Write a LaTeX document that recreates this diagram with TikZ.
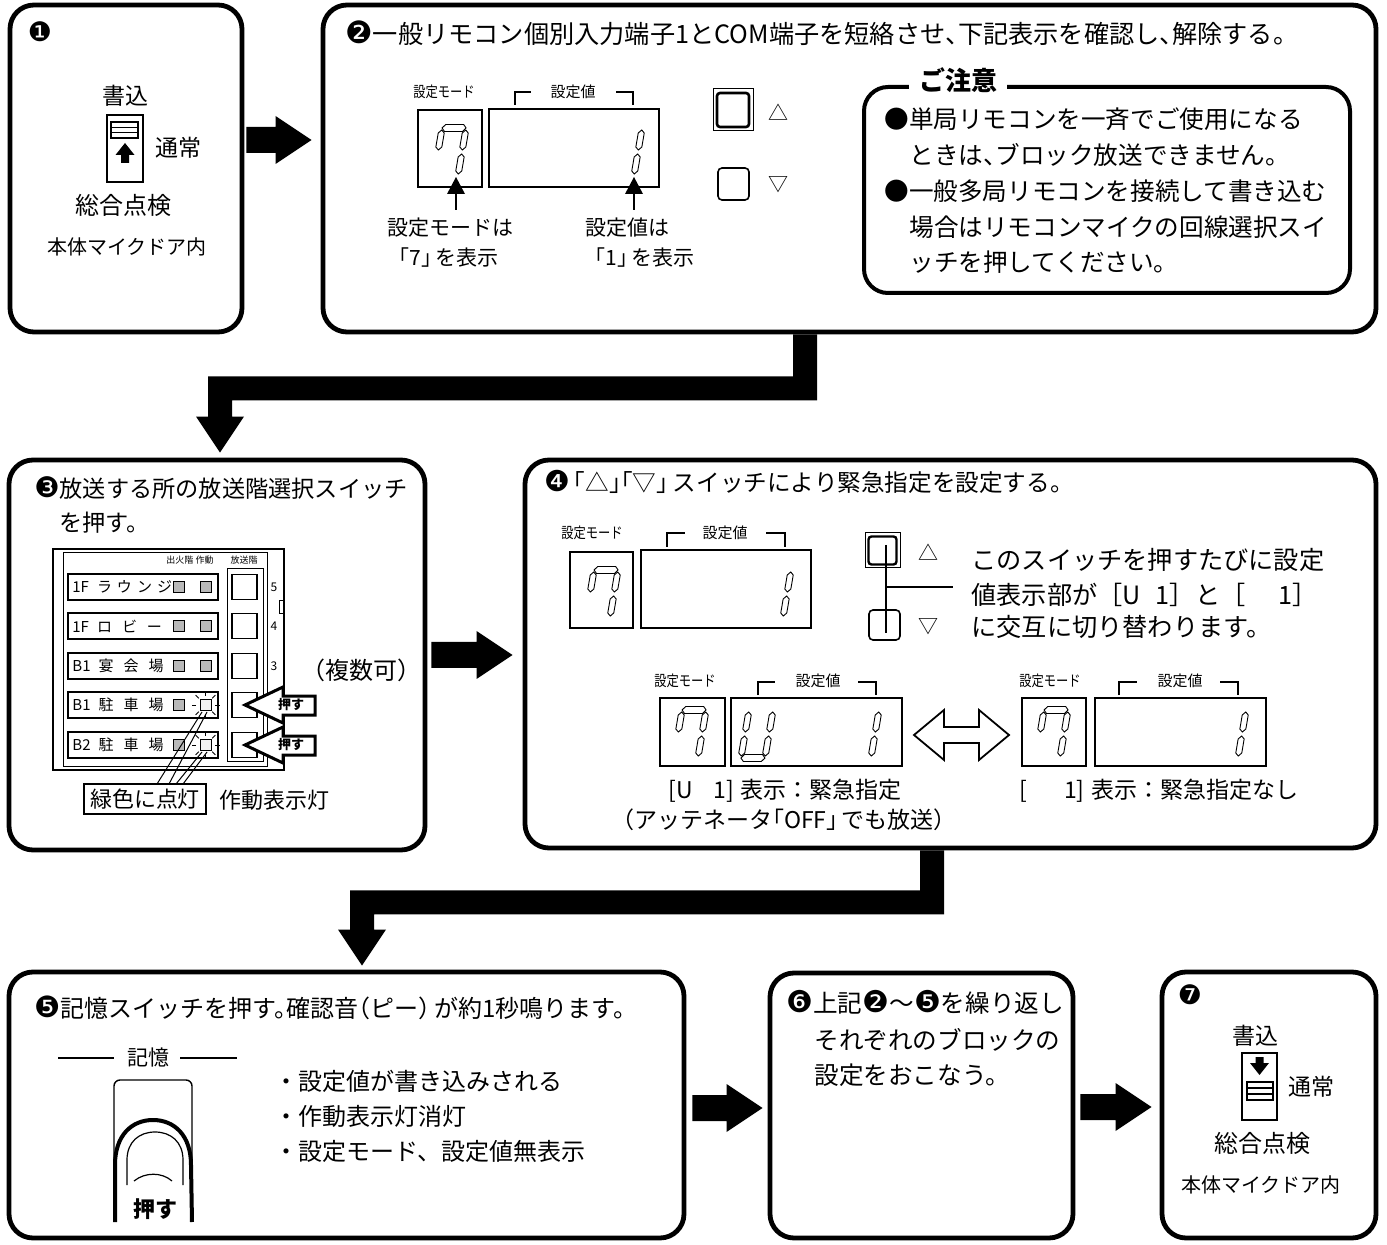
\documentclass[tikz,border=0pt]{standalone}
\usepackage{graphicx}
\usepackage{fontspec}
\setmainfont{Noto Sans CJK JP}
\newfontfamily\dingfont{DejaVu Sans}
\usetikzlibrary{calc,fit}

\newcommand\fsz[1]{\fontsize{#1}{#1}\selectfont}
\newcommand\cnum[1]{\scalebox{1.22}{\dingfont #1}}
\newcommand\narrowtxt[1]{\scalebox{0.82}[1]{#1}}
% half-width Japanese punctuation: opening marks drop their left half, closing marks their right half
\newcommand\jlb[1]{\kern-0.5em#1}
\newcommand\jrb[1]{#1\kern-0.5em}

% seven-segment pieces (pixel units, centred on the given point)
\newcommand\vsg[2]{\draw[seg] (#1,#2-10)--(#1+3,#2-7)--(#1+3,#2+7)--(#1,#2+10)--(#1-3,#2+7)--(#1-3,#2-7)--cycle;}
\newcommand\hsg[2]{\draw[seg] (#1-12,#2)--(#1-9,#2-3.5)--(#1+9,#2-3.5)--(#1+12,#2)--(#1+9,#2+3.5)--(#1-9,#2+3.5)--cycle;}
\newcommand\digseven[2]{\begin{scope}[shift={(#1,#2)},xslant=0.17]
  \hsg{0}{-24}\vsg{-12}{-12}\vsg{12}{-12}\vsg{12}{12}\end{scope}}
\newcommand\digone[2]{\begin{scope}[shift={(#1,#2)},xslant=0.17]
  \vsg{12}{-12}\vsg{12}{12}\end{scope}}
\newcommand\digU[2]{\begin{scope}[shift={(#1,#2)},xslant=0.17]
  \vsg{-12}{-12}\vsg{12}{-12}\vsg{-12}{12}\vsg{12}{12}\hsg{0}{24}\end{scope}}

% solid block arrow pointing right, from (#1) to tip (#2)
\newcommand\blockright[2]{\fill ($(#1)+(0,-13)$) -- ($(#2)+(-36,-13)$) -- ($(#2)+(-36,-24)$) -- (#2)
  -- ($(#2)+(-36,24)$) -- ($(#2)+(-36,13)$) -- ($(#1)+(0,13)$) -- cycle;}
% solid block arrow going down, across to the left, and down again
\newcommand\blockelbow[4]{\fill ($(#1)+(12,0)$) -- ($(#2)+(12,12)$) -- ($(#3)+(12,12)$) -- ($(#4)+(12,-36)$)
  -- ($(#4)+(24,-36)$) -- (#4) -- ($(#4)+(-24,-36)$) -- ($(#4)+(-12,-36)$) -- ($(#3)+(-12,-12)$)
  -- ($(#2)+(-12,-12)$) -- ($(#1)+(-12,0)$) -- cycle;}

% one row of the floor panel
\newcommand\floorrow[2]{%
  \draw[line width=0.6pt] (68,#1-13) rectangle (218,#1+13);
  \node[anchor=west,inner sep=0pt,font=\fsz{7.5}] at (72,#1) {#2};
  \draw[line width=0.9pt] (232,#1-12.5) rectangle (257,#1+12.5);
  \draw[line width=0.4pt,fill=gray!55] (173,#1-5.5) rectangle (184,#1+5.5);}
\newcommand\lampoff[1]{\draw[line width=0.4pt,fill=gray!55] (200,#1-5.5) rectangle (211,#1+5.5);}
\newcommand\lampon[1]{\draw[line width=0.4pt,fill=gray!10] (200,#1-5.5) rectangle (211,#1+5.5);
  \foreach \a in {0,45,...,315} \draw[line width=0.4pt] ($(205.5,#1)+(\a:9.5)$) -- ($(205.5,#1)+(\a:14)$);}
\newcommand\pusharrow[1]{\draw[line width=1.5pt,fill=white,line join=miter] (245,#1) -- (283,#1-18) -- (283,#1-9)
  -- (315,#1-9) -- (315,#1+10) -- (283,#1+10) -- (283,#1+18) -- cycle;
  \node[inner sep=0pt,font=\fsz{6.5}\bfseries] at (291,#1) {押す};}

\begin{document}
\begin{tikzpicture}[x=0.5pt,y=-0.5pt,
  panel/.style={draw,line width=2.4pt,rounded corners=12pt,inner sep=0pt},
  seg/.style={line width=0.45pt},
  txt/.style={inner sep=0pt,font=\fsz{12.5}},
  lt/.style={txt,anchor=west},
  small/.style={inner sep=0pt,font=\fsz{7.5}},
  thinbox/.style={line width=0.7pt}]
\useasboundingbox (0,0) rectangle (1387,1245);

% ---- step panels
\node[panel,fit={(10,5) (242,332)}] (b1) {};
\node[panel,fit={(323,5) (1376,332)}] (b2) {};
\node[panel,fit={(9,460) (425,850)}] (b3) {};
\node[panel,fit={(525,460) (1376,848)}] (b4) {};
\node[panel,fit={(9,972) (684,1238)}] (b5) {};
\node[panel,fit={(770,973) (1073,1238)}] (b6) {};
\node[panel,fit={(1162,972) (1376,1238)}] (b7) {};

% ---- flow arrows
\coordinate (r1) at (0,140);
\path (b1.east |- r1) ++(2,0) coordinate (a1s);
\path (b2.west |- r1) ++(-9,0) coordinate (a1e);
\blockright{a1s}{a1e}

\coordinate (x1) at (805,0); \coordinate (x2) at (220,0);
\path (x1 |- b2.south) coordinate (e1a) ++(0,54) coordinate (e1b);
\path (x2 |- e1b) coordinate (e1c);
\path (x2 |- b3.north) ++(0,-5) coordinate (e1t);
\blockelbow{e1a}{e1b}{e1c}{e1t}

\coordinate (r2) at (0,655);
\path (b3.east |- r2) ++(4,0) coordinate (a2s);
\path (b4.west |- r2) ++(-10,0) coordinate (a2e);
\blockright{a2s}{a2e}

\coordinate (x3) at (932,0); \coordinate (x4) at (362,0);
\path (x3 |- b4.south) coordinate (e2a) ++(0,52) coordinate (e2b);
\path (x4 |- e2b) coordinate (e2c);
\path (x4 |- b5.north) ++(0,-4) coordinate (e2t);
\blockelbow{e2a}{e2b}{e2c}{e2t}

\coordinate (r3) at (0,1108);
\path (b5.east |- r3) ++(6,0) coordinate (a3s);
\path (b6.west |- r3) ++(-5,0) coordinate (a3e);
\blockright{a3s}{a3e}

\coordinate (r4) at (0,1107);
\path (b6.east |- r4) ++(5,0) coordinate (a4s);
\path (b7.west |- r4) ++(-8,0) coordinate (a4e);
\blockright{a4s}{a4e}

% ---- step 1
\node[txt,font=\fsz{11}] at (40,32) {\cnum{❶}};
\node[txt,font=\fsz{11.5}] at (125,96) {書込};
\draw[line width=0.9pt] (107,115) rectangle (143,182);
\draw[line width=0.8pt] (111,122) rectangle (138,138);
\draw[line width=0.6pt] (111,127.3) -- (138,127.3) (111,132.7) -- (138,132.7);
\fill (125,143) -- (134.5,155) -- (129,155) -- (129,163) -- (121,163) -- (121,155) -- (115.5,155) -- cycle;
\node[txt,font=\fsz{11.5}] at (178,148) {通常};
\node[txt,font=\fsz{12}] at (123,205) {総合点検};
\node[txt,font=\fsz{10}] at (127,247) {本体マイクドア内};

% ---- step 2
\node[lt,font=\fsz{12.6}] at (345,33) {\cnum{❷}一般リモコン個別入力端子1とCOM端子を短絡させ\jrb{、}下記表示を確認し\jrb{、}解除する。};
\node[small] at (444,92) {\narrowtxt{設定モード}};
\draw[thinbox] (515,105) -- (515,92) -- (531,92) (616,92) -- (633,92) -- (633,105);
\node[small] at (573,92) {設定値};
\draw[thinbox] (418,110) rectangle (482,187);
\draw[thinbox] (489,109) rectangle (659,187);
\digseven{450}{152}
\digone{626}{152}
\draw[line width=0.9pt] (456,210) -- (456,192);
\fill (456,177) -- (465,194) -- (447,194) -- cycle;
\draw[line width=0.9pt] (634,210) -- (634,192);
\fill (634,177) -- (643,194) -- (625,194) -- cycle;
\node[txt,font=\fsz{10.5}] at (450,228) {設定モードは};
\node[txt,font=\fsz{10.5}] at (449,258) {\jlb{「}7\jrb{」}\,を表示};
\node[txt,font=\fsz{10.5}] at (627,228) {設定値は};
\node[txt,font=\fsz{10.5}] at (645,258) {\jlb{「}1\jrb{」}\,を表示};
\draw[line width=0.5pt] (713,89) rectangle (753,131);
\draw[line width=1.3pt,rounded corners=1.5pt] (717,93) rectangle (749,127);
\draw[line width=0.8pt,rounded corners=2pt] (718,168) rectangle (749,200);
\node[txt,font=\fsz{10}] at (778,112) {△};
\node[txt,font=\fsz{10}] at (778,185) {▽};

% caution box
\node[draw,line width=2pt,rounded corners=12pt,inner sep=0pt,fit={(864,87) (1350,293)}] (note) {};
\node[fill=white,inner xsep=5pt,inner ysep=0pt,font=\fsz{13}\bfseries] (notetitle) at (958,80) {ご注意};
\node[lt,font=\fsz{12.3}] at (884,119) {●単局リモコンを一斉でご使用になる};
\node[lt,font=\fsz{12.3}] at (909,155) {ときは\jrb{、}ブロック放送できません。};
\node[lt,font=\fsz{12.3}] at (884,191) {●一般多局リモコンを接続して書き込む};
\node[lt,font=\fsz{12.3}] at (909,227) {場合はリモコンマイクの回線選択スイ};
\node[lt,font=\fsz{12.3}] at (909,262) {ッチを押してください。};

% ---- step 3
\node[lt,font=\fsz{11.6}] at (34,488) {\cnum{❸}放送する所の放送階選択スイッチ};
\node[lt,font=\fsz{11.6}] at (59,523) {を押す。};
\draw[line width=0.8pt] (53,549) rectangle (284,770);
\draw[line width=0.4pt] (63,552) rectangle (267,766);
\node[small,font=\fsz{4.5}] at (190,560) {出火階 作動};
\node[small,font=\fsz{4.5}] at (244,560) {放送階};
\draw[line width=0.5pt] (227,569) rectangle (263,761);
\floorrow{587}{1F\hspace{4pt}ラ\hspace{2.5pt}ウ\hspace{2.5pt}ン\hspace{2.5pt}ジ}
\floorrow{626}{1F\hspace{4pt}ロ\hspace{5pt}ビ\hspace{5pt}ー}
\floorrow{666}{B1\hspace{4pt}宴\hspace{5pt}会\hspace{5pt}場}
\floorrow{705}{B1\hspace{4pt}駐\hspace{5pt}車\hspace{5pt}場}
\floorrow{745}{B2\hspace{4pt}駐\hspace{5pt}車\hspace{5pt}場}
\lampoff{587}\lampoff{626}\lampoff{666}
\lampon{705}\lampon{745}
\node[small,font=\fsz{6}] at (274,587) {5};
\node[small,font=\fsz{6}] at (274,626) {4};
\node[small,font=\fsz{6}] at (274,666) {3};
\draw[line width=0.4pt] (279,600) rectangle (284,613);
\pusharrow{705}
\pusharrow{745}
\node[draw,line width=0.8pt,inner xsep=3pt,inner ysep=2.5pt,font=\fsz{11}] (green) at (145,799) {緑色に点灯};
\draw[line width=0.5pt] (202,712) -- (157,784) (207,712) -- (169,784) (202,752) -- (176,784) (207,752) -- (183,784);
\node[txt,font=\fsz{11}] at (274,800) {作動表示灯};
\node[txt,font=\fsz{12}] at (361,670) {（複数可）};

% ---- step 4
\node[lt,font=\fsz{11.8}] at (544,482) {\cnum{❹}\kern0.15em\jlb{「}△\jrb{」}\jlb{「}▽\jrb{」}\kern0.2emスイッチにより緊急指定を設定する。};
\node[small] at (592,533) {\narrowtxt{設定モード}};
\draw[thinbox] (667,547) -- (667,533) -- (685,533) (766,533) -- (785,533) -- (785,547);
\node[small] at (725,533) {設定値};
\draw[thinbox] (570,552) rectangle (633,628);
\draw[thinbox] (641,550) rectangle (811,628);
\digseven{602}{594}
\digone{775}{594}
\draw[line width=0.5pt] (865,533) rectangle (900,568);
\draw[line width=1.2pt,rounded corners=1.5pt] (868.5,536.5) rectangle (896.5,564.5);
\draw[line width=0.8pt,rounded corners=2pt] (869,610) rectangle (900,640);
\draw[line width=0.7pt] (886,545) -- (886,633) (886,587) -- (953,587);
\node[txt,font=\fsz{10}] at (928,552) {△};
\node[txt,font=\fsz{10}] at (928,627) {▽};
\node[lt,font=\fsz{12.6}] at (971,560) {このスイッチを押すたびに設定};
\node[lt,font=\fsz{12.6}] at (971,595) {値表示部が［U\hspace{0.6em}1］と［\hspace{1.3em}1］};
\node[lt,font=\fsz{12.6}] at (971,627) {に交互に切り替わります。};

\node[small] at (685,681) {\narrowtxt{設定モード}};
\draw[thinbox] (758,695) -- (758,682) -- (775,682) (858,682) -- (876,682) -- (876,695);
\node[small] at (818,681) {設定値};
\draw[thinbox] (660,698) rectangle (725,766);
\draw[thinbox] (731,698) rectangle (902,766);
\digseven{690}{734}
\digU{757}{734}
\digone{863}{734}
\draw[line width=0.9pt,fill=white] (914,735) -- (944,710) -- (944,727) -- (979,727) -- (979,710) -- (1009,735)
  -- (979,760) -- (979,743) -- (944,743) -- (944,760) -- cycle;
\node[small] at (1050,681) {\narrowtxt{設定モード}};
\draw[thinbox] (1119,695) -- (1119,682) -- (1137,682) (1220,682) -- (1238,682) -- (1238,695);
\node[small] at (1180,681) {設定値};
\draw[thinbox] (1022,698) rectangle (1086,766);
\draw[thinbox] (1095,698) rectangle (1266,766);
\digseven{1052}{734}
\digone{1230}{734}
\node[txt,font=\fsz{11.5}] at (785,791) {[U\hspace{0.9em}1]\hspace{0.3em}表示：緊急指定};
\node[txt,font=\fsz{11.5}] at (784,820) {\jlb{（}アッテネータ\jlb{「}OFF\jrb{」}\kern0.15emでも放送\jrb{）}};
\node[txt,font=\fsz{11.5}] at (1159,791) {[\hspace{1.6em}1]\hspace{0.3em}表示：緊急指定なし};

% ---- step 5
\node[lt,font=\fsz{12}] at (34,1008) {\cnum{❺}記憶スイッチを押す\jrb{。}確認音\jlb{（}ピー\jrb{）}\,が約1秒鳴ります。};
\draw[line width=0.6pt] (58,1058) -- (114,1058) (180,1058) -- (237,1058);
\node[txt,font=\fsz{10.5}] at (148,1058) {記憶};
\draw[line width=0.7pt,rounded corners=3pt] (114,1080) rectangle (192,1165);
\draw[line width=2pt,fill=white] (115,1222) -- (115,1165) .. controls (115,1135) and (132,1120) .. (153,1120)
  .. controls (174,1120) and (191,1135) .. (191,1165) -- (192,1222);
\draw[line width=0.6pt] (127,1185) -- (127,1160) .. controls (127,1142) and (139,1132) .. (155,1132)
  .. controls (171,1132) and (183,1142) .. (183,1160) -- (183,1185);
\draw[line width=0.6pt] (134,1181) .. controls (145,1172) and (162,1172) .. (172,1181);
\node[inner sep=0pt,font=\fsz{11}\bfseries] at (155,1209) {押す};
\node[lt,font=\fsz{12}] at (274,1081) {・設定値が書き込みされる};
\node[lt,font=\fsz{12}] at (274,1116) {・作動表示灯消灯};
\node[lt,font=\fsz{12}] at (274,1151) {・設定モード、設定値無表示};

% ---- step 6
\node[lt,font=\fsz{12.3}] at (786,1002) {\cnum{❻}上記\cnum{❷}〜\cnum{❺}を繰り返し};
\node[lt,font=\fsz{12.3}] at (814,1040) {それぞれのブロックの};
\node[lt,font=\fsz{12.3}] at (814,1075) {設定をおこなう。};

% ---- step 7
\node[txt,font=\fsz{11}] at (1190,995) {\cnum{❼}};
\node[txt,font=\fsz{11.5}] at (1255,1036) {書込};
\draw[line width=0.9pt] (1242,1053) rectangle (1277,1120);
\fill (1259.5,1075) -- (1269,1063) -- (1263.5,1063) -- (1263.5,1057) -- (1255.5,1057) -- (1255.5,1063) -- (1250,1063) -- cycle;
\draw[line width=0.8pt] (1247,1082) rectangle (1273,1100);
\draw[line width=0.6pt] (1247,1088) -- (1273,1088) (1247,1094) -- (1273,1094);
\node[txt,font=\fsz{11.5}] at (1311,1087) {通常};
\node[txt,font=\fsz{12}] at (1262,1143) {総合点検};
\node[txt,font=\fsz{10}] at (1261,1185) {本体マイクドア内};
\end{tikzpicture}
\end{document}
